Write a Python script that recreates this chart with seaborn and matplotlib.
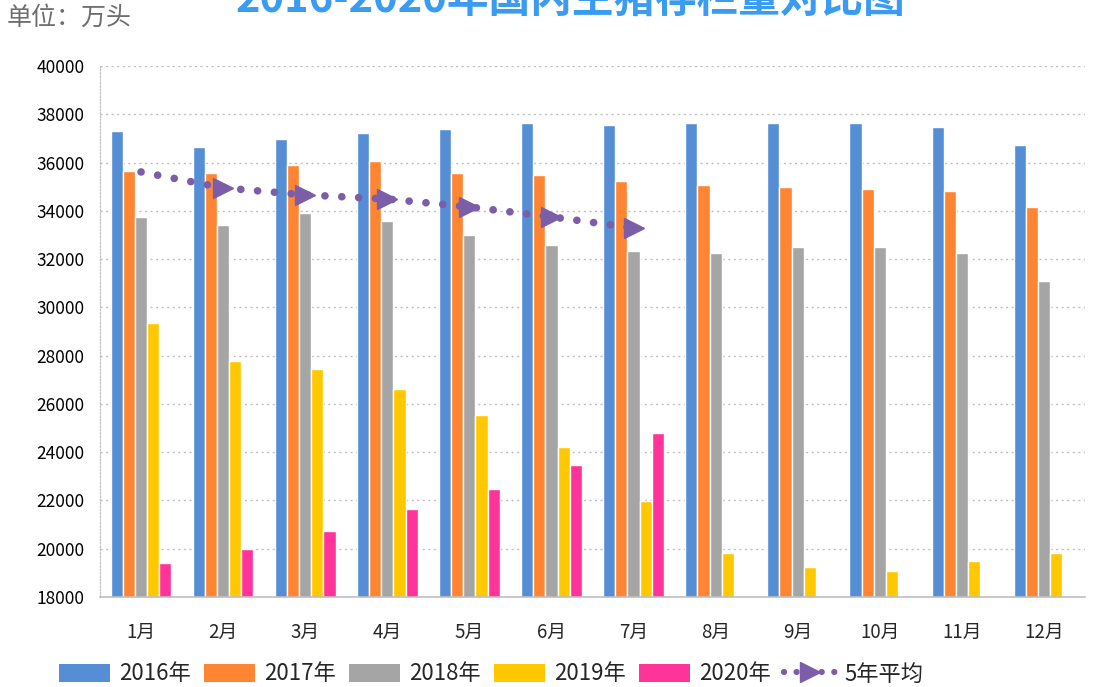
import numpy as np
import pandas as pd
import matplotlib
matplotlib.use('Agg')
import matplotlib.pyplot as plt
from matplotlib.patches import Patch
from matplotlib.lines import Line2D
import seaborn as sns

# Data (unit: 10k head)
months = ['1月', '2月', '3月', '4月', '5月', '6月', '7月', '8月', '9月', '10月', '11月', '12月']
years = ['2016年', '2017年', '2018年', '2019年', '2020年']
v2016 = [37300, 36650, 36980, 37220, 37390, 37640, 37560, 37640, 37640, 37640, 37470, 36730]
v2017 = [35650, 35570, 35900, 36060, 35570, 35490, 35240, 35070, 34990, 34900, 34820, 34160]
v2018 = [33740, 33410, 33910, 33580, 33000, 32590, 32340, 32250, 32500, 32500, 32250, 31090]
v2019 = [29350, 27780, 27450, 26620, 25540, 24210, 21980, 19830, 19250, 19080, 19500, 19830]
v2020 = [19410, 19990, 20740, 21650, 22480, 23470, 24800]
avg5 = [35610, 34950, 34660, 34490, 34160, 33750, 33290]

colors = ['#558ED5', '#FF8533', '#A5A5A5', '#FFC800', '#FF3399']
line_color = '#7B5EA7'

sns.set_style('white')
plt.rcParams['font.family'] = ['Noto Sans CJK SC', 'DejaVu Sans']

rows = []
for y, vals in zip(years, [v2016, v2017, v2018, v2019, v2020]):
    for m, v in zip(months, vals):
        rows.append({'月份': m, '年份': y, '存栏量': v})
df = pd.DataFrame(rows)

fig = plt.figure(figsize=(11.08, 6.87), dpi=100)
ax = fig.add_axes([100 / 1108, 1 - 597 / 687, 985 / 1108, 531 / 687])

sns.barplot(data=df, x='月份', y='存栏量', hue='年份', order=months, hue_order=years,
            palette=colors, width=0.74, saturation=1, ax=ax, legend=False)

# 5-year average line
ax.plot(np.arange(len(avg5)), avg5, color=line_color, linewidth=5.5,
        linestyle=(0, (0.01, 2.2)), dash_capstyle='round',
        marker='>', markersize=15, markevery=list(range(1, len(avg5))), zorder=5)

ax.set_ylim(18000, 40000)
ax.set_yticks(np.arange(18000, 40001, 2000))
ax.set_xlim(-0.5, 11.5)
ax.set_xlabel('')
ax.set_ylabel('')
ax.yaxis.grid(True, color='#BFBFBF', linestyle=(0, (1.5, 2.5)), linewidth=1)
ax.set_axisbelow(True)

for s in ['top', 'right']:
    ax.spines[s].set_visible(False)
ax.spines['left'].set_color('#BFBFBF')
ax.spines['left'].set_linestyle((0, (1.5, 1.5)))
ax.spines['bottom'].set_color('#BFBFBF')
ax.spines['bottom'].set_linewidth(1.2)

ax.tick_params(axis='y', length=0, labelsize=12.5, pad=11, labelcolor='#000000')
ax.tick_params(axis='x', which='major', length=0, labelsize=13.5, pad=18)
ax.set_xticks(np.arange(-0.5, 12, 1), minor=True)
ax.tick_params(axis='x', which='minor', length=8, color='#BFBFBF', width=1.2)

fig.text(0.515, 1 - 13 / 687, '2016-2020年国内生猪存栏量对比图', ha='center', va='baseline',
         fontsize=30, fontweight='bold', color='#3A9BF0')
fig.text(7 / 1108, 1 - 18 / 687, '单位：万头', ha='left', va='center',
         fontsize=18, color='#6E6E6E')

handles = [Patch(facecolor=c, edgecolor='none') for c in colors]
handles.append(Line2D([0], [0], color=line_color, linewidth=4.5, linestyle=(0, (0.01, 2.0)),
                      dash_capstyle='round', marker='>', markersize=14, markevery=[1]))
fig.legend(handles, years + ['5年平均'], loc='center', bbox_to_anchor=(0.443, 1 - 674 / 687),
           ncol=6, frameon=False, fontsize=16, handlelength=2.3, handleheight=0.9,
           handletextpad=0.4, columnspacing=0.6)

fig.savefig('out.png', dpi=100)
